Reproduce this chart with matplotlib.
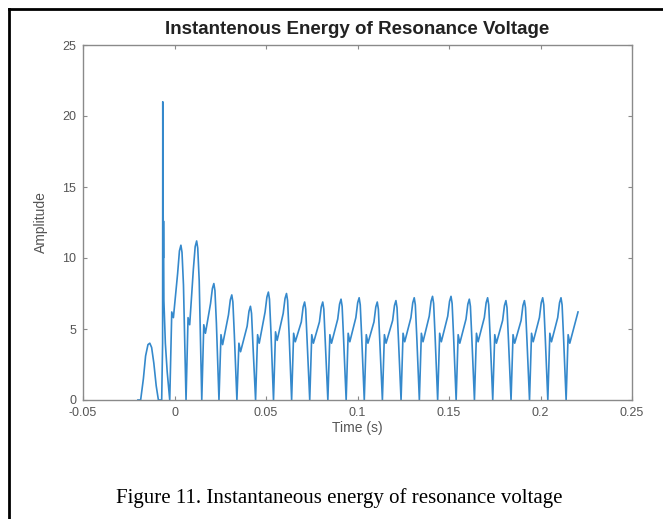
import numpy as np
import matplotlib
matplotlib.use("Agg")
import matplotlib.pyplot as plt
from matplotlib.lines import Line2D

# start-up transient (bump, spike)
start_t = [-0.0200, -0.0185, -0.0170, -0.0158, -0.0145, -0.0135, -0.0125, -0.0113, -0.0100,
           -0.0088, -0.0070, -0.0066, -0.0065, -0.0064, -0.0063, -0.0062, -0.0061, -0.0060,
           -0.0058, -0.0050, -0.0040]
start_a = [0, 0, 1.5, 3.1, 3.9, 4.0, 3.7, 2.6, 1.0,
           0, 0, 3.0, 4.0, 21.0, 12.0, 13.3, 10.0, 12.6,
           7.0, 4.0, 2.0]

# points of each cycle
zero_t = [-0.0026, 0.0063, 0.0149, 0.0243, 0.0341, 0.0443, 0.0541, 0.0640, 0.0739, 0.0838,
          0.0938, 0.1037, 0.1136, 0.1238, 0.1338, 0.1438, 0.1539, 0.1639, 0.1739, 0.1839,
          0.1940, 0.2040, 0.2140]
zero_a = [0] * len(zero_t)

knee_t = [-0.0015, 0.0074, 0.0160, 0.0254, 0.0352, 0.0454, 0.0552, 0.0651, 0.0750, 0.0849,
          0.0949, 0.1048, 0.1147, 0.1249, 0.1349, 0.1449, 0.1550, 0.1650, 0.1750, 0.1850,
          0.1951, 0.2051, 0.2151]
knee_a = [6.2, 5.8, 5.3, 4.6, 4.0, 4.6, 4.8, 4.7, 4.6, 4.6,
          4.7, 4.6, 4.6, 4.7, 4.7, 4.7, 4.6, 4.7, 4.6, 4.6,
          4.7, 4.7, 4.6]

notch_t = [-0.0006, 0.0083, 0.0169, 0.0263, 0.0361, 0.0463, 0.0561, 0.0660, 0.0759, 0.0858,
           0.0958, 0.1057, 0.1156, 0.1258, 0.1358, 0.1458, 0.1559, 0.1659, 0.1759, 0.1859,
           0.1960, 0.2060, 0.2160]
notch_a = [5.8, 5.3, 4.7, 3.9, 3.4, 4.0, 4.2, 4.1, 4.0, 4.0,
           4.1, 4.0, 4.0, 4.1, 4.1, 4.1, 4.0, 4.1, 4.0, 4.0,
           4.1, 4.1, 4.0]

rise_t = [0.0017, 0.0103, 0.0197, 0.0295, 0.0397, 0.0495, 0.0594, 0.0693, 0.0792, 0.0892,
          0.0991, 0.1090, 0.1192, 0.1292, 0.1392, 0.1493, 0.1593, 0.1693, 0.1793, 0.1894,
          0.1994, 0.2094]
rise_a = [8.9, 9.2, 6.8, 6.0, 5.2, 6.2, 6.1, 5.5, 5.5, 5.7,
          5.8, 5.5, 5.6, 5.8, 5.9, 5.9, 5.7, 5.8, 5.6, 5.6,
          5.8, 5.8]

top1_t = [0.0027, 0.0113, 0.0207, 0.0305, 0.0407, 0.0505, 0.0604, 0.0703, 0.0802, 0.0902,
          0.1001, 0.1100, 0.1202, 0.1302, 0.1402, 0.1503, 0.1603, 0.1703, 0.1803, 0.1904,
          0.2004, 0.2104]
top1_a = [10.5, 10.8, 7.85, 7.05, 6.25, 7.25, 7.15, 6.55, 6.55, 6.75,
          6.85, 6.55, 6.65, 6.85, 6.95, 6.95, 6.75, 6.85, 6.65, 6.65,
          6.85, 6.85]

peak_t = [0.0035, 0.0121, 0.0215, 0.0313, 0.0415, 0.0513, 0.0612, 0.0711, 0.0810, 0.0910,
          0.1009, 0.1108, 0.1210, 0.1310, 0.1410, 0.1511, 0.1611, 0.1711, 0.1811, 0.1912,
          0.2012, 0.2112]
peak_a = [10.9, 11.2, 8.2, 7.4, 6.6, 7.6, 7.5, 6.9, 6.9, 7.1,
          7.2, 6.9, 7.0, 7.2, 7.3, 7.3, 7.1, 7.2, 7.0, 7.0,
          7.2, 7.2]

top2_t = [0.0041, 0.0127, 0.0221, 0.0319, 0.0421, 0.0519, 0.0618, 0.0717, 0.0816, 0.0916,
          0.1015, 0.1114, 0.1216, 0.1316, 0.1416, 0.1517, 0.1617, 0.1717, 0.1817, 0.1918,
          0.2018, 0.2118]
top2_a = [10.4, 10.7, 7.7, 6.9, 6.1, 7.1, 7.0, 6.4, 6.4, 6.6,
          6.7, 6.4, 6.5, 6.7, 6.8, 6.8, 6.6, 6.7, 6.5, 6.5,
          6.7, 6.7]

fall_t = [0.0049, 0.0135, 0.0229, 0.0327, 0.0429, 0.0527, 0.0626, 0.0725, 0.0824, 0.0924,
          0.1023, 0.1122, 0.1224, 0.1324, 0.1424, 0.1525, 0.1625, 0.1725, 0.1825, 0.1926,
          0.2026, 0.2126]
fall_a = [8.1, 8.4, 5.4, 4.6, 3.8, 4.8, 4.7, 4.1, 4.1, 4.3,
          4.4, 4.1, 4.2, 4.4, 4.5, 4.5, 4.3, 4.4, 4.2, 4.2,
          4.4, 4.4]

end_t = [0.2205]
end_a = [6.2]

x_ticks = [-0.05, 0, 0.05, 0.1, 0.15, 0.2, 0.25]
x_labels = ["-0.05", "0", "0.05", "0.1", "0.15", "0.2", "0.25"]
y_ticks = [0, 5, 10, 15, 20, 25]

# put all points together in time order
t = np.concatenate([start_t, zero_t, knee_t, notch_t, rise_t, top1_t,
                    peak_t, top2_t, fall_t, end_t])
a = np.concatenate([start_a, zero_a, knee_a, notch_a, rise_a, top1_a,
                    peak_a, top2_a, fall_a, end_a])
order = np.argsort(t, kind="stable")
t, a = t[order], a[order]

fig = plt.figure(figsize=(6.63, 5.19), dpi=100)
ax = fig.add_axes([83 / 663, 1 - 400 / 519, 549 / 663, 355 / 519])

ax.plot(t, a, color="#3589cc", lw=1.2)

ax.set_xlim(-0.05, 0.25)
ax.set_ylim(0, 25)
ax.set_xticks(x_ticks)
ax.set_xticklabels(x_labels)
ax.set_yticks(y_ticks)

grey = "#8a8a8a"
for s in ax.spines.values():
    s.set_color(grey)
    s.set_linewidth(1.0)
ax.tick_params(direction="in", top=True, right=True, length=3, width=0.8,
               color=grey, labelcolor="#555555", labelsize=9, pad=5)
for lab in ax.get_xticklabels() + ax.get_yticklabels():
    lab.set_family("Liberation Sans")

fig.text(357.5 / 663, 1 - 30 / 519, "Instantenous Energy of Resonance Voltage",
         ha="center", va="center", fontsize=13.5, fontweight="bold",
         family="Liberation Sans", color="#222222")
fig.text(357 / 663, 1 - 428 / 519, "Time (s)", ha="center", va="center",
         fontsize=10, family="Liberation Sans", color="#555555")
fig.text(41 / 663, 1 - 222 / 519, "Amplitude", ha="center", va="center",
         rotation=90, fontsize=10, family="Liberation Sans", color="#555555")
fig.text(339 / 663, 1 - 498 / 519, "Figure 11. Instantaneous energy of resonance voltage",
         ha="center", va="center", fontsize=15, family="Liberation Serif",
         color="black")

# page frame (top and left edges visible in the crop)
fig.add_artist(Line2D([9 / 663, 1], [1 - 9 / 519, 1 - 9 / 519],
                      transform=fig.transFigure, color="black", lw=2))
fig.add_artist(Line2D([9 / 663, 9 / 663], [0, 1 - 9 / 519],
                      transform=fig.transFigure, color="black", lw=2))

fig.savefig("out.png", dpi=100)
